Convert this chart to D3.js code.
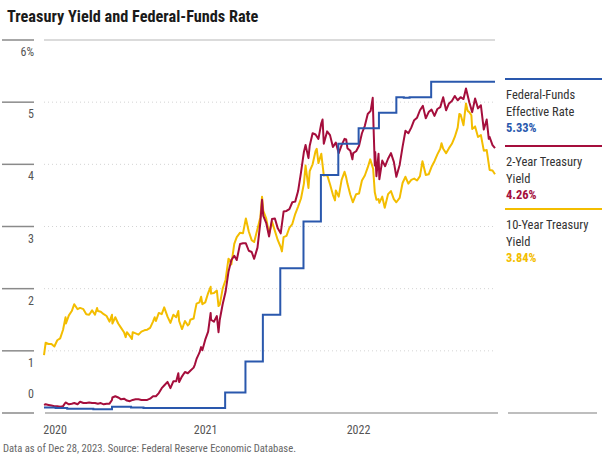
<!DOCTYPE html>
<html>
<head>
<meta charset="utf-8">
<script src="https://cdn.jsdelivr.net/npm/d3@7"></script>
<style>
  html, body { margin: 0; padding: 0; background: #fff; }
  svg { display: block; }
  text { font-family: "Liberation Sans Narrow", "Roboto Condensed", "Arial Narrow", Roboto, sans-serif; }
</style>
</head>
<body>
<svg id="chart" width="602" height="456"></svg>
<script>
// ---------------- DATA ----------------
const title = "Treasury Yield and Federal-Funds Rate";
const footnote = "Data as of Dec 28, 2023. Source: Federal Reserve Economic Database.";

const yTicks = [0, 1, 2, 3, 4, 5, 6];
const yTickLabels = ["0", "1", "2", "3", "4", "5", "6%"];
const xTickDates = ["2021-01-01", "2021-12-30", "2023-01-03"];
const xTickLabels = ["2020", "2021", "2022"];

const seriesNames = ["Federal-Funds Effective Rate", "2-Year Treasury Yield", "10-Year Treasury Yield"];
const legendLines = [["Federal-Funds", "Effective Rate"], ["2-Year Treasury", "Yield"], ["10-Year Treasury", "Yield"]];
const latestValues = ["5.33%", "4.26%", "3.84%"];

const fedFunds = [
  ["2021-01-04",0.09],["2021-02-01",0.08],["2021-03-01",0.07],["2021-05-03",0.06],["2021-06-17",0.10],
  ["2021-08-02",0.09],["2021-09-01",0.08],["2022-03-17",0.33],["2022-05-05",0.83],["2022-06-16",1.58],
  ["2022-07-28",2.33],["2022-09-22",3.08],["2022-11-03",3.83],["2022-12-15",4.33],["2023-02-02",4.58],
  ["2023-03-23",4.83],["2023-05-04",5.08],["2023-05-22",5.07],["2023-06-05",5.08],["2023-07-27",5.33],["2023-12-28",5.33]
];

const twoYear = [
  ["2021-01-04",0.13],["2021-01-08",0.14],["2021-01-15",0.13],["2021-01-22",0.12],["2021-01-29",0.11],
  ["2021-02-05",0.11],["2021-02-12",0.10],["2021-02-19",0.11],["2021-02-25",0.17],["2021-03-05",0.14],
  ["2021-03-12",0.15],["2021-03-18",0.16],["2021-03-26",0.14],["2021-04-01",0.18],["2021-04-09",0.16],
  ["2021-04-16",0.16],["2021-04-23",0.17],["2021-04-30",0.16],["2021-05-07",0.16],["2021-05-14",0.15],
  ["2021-05-21",0.16],["2021-05-28",0.14],["2021-06-04",0.15],["2021-06-11",0.15],["2021-06-17",0.21],
  ["2021-06-18",0.25],["2021-06-25",0.27],["2021-07-02",0.25],["2021-07-09",0.22],["2021-07-16",0.23],
  ["2021-07-23",0.20],["2021-07-30",0.19],["2021-08-06",0.21],["2021-08-13",0.22],["2021-08-20",0.22],
  ["2021-08-27",0.21],["2021-09-03",0.21],["2021-09-10",0.21],["2021-09-17",0.23],["2021-09-24",0.27],
  ["2021-10-01",0.27],["2021-10-08",0.32],["2021-10-15",0.40],["2021-10-22",0.45],["2021-10-29",0.50],
  ["2021-11-05",0.40],["2021-11-12",0.51],["2021-11-19",0.51],["2021-11-24",0.64],["2021-11-26",0.50],
  ["2021-12-03",0.59],["2021-12-10",0.66],["2021-12-17",0.64],["2021-12-23",0.68],["2021-12-31",0.73],
  ["2022-01-03",0.78],["2022-01-07",0.87],["2022-01-14",0.97],["2022-01-18",1.06],["2022-01-21",1.01],
  ["2022-01-28",1.18],["2022-02-04",1.31],["2022-02-10",1.61],["2022-02-11",1.50],["2022-02-18",1.47],
  ["2022-02-25",1.56],["2022-03-01",1.30],["2022-03-04",1.50],["2022-03-11",1.75],["2022-03-18",1.95],
  ["2022-03-25",2.27],["2022-04-01",2.46],["2022-04-08",2.53],["2022-04-14",2.46],["2022-04-22",2.72],
  ["2022-04-29",2.73],["2022-05-06",2.73],["2022-05-13",2.61],["2022-05-20",2.59],["2022-05-26",2.48],
  ["2022-06-03",2.66],["2022-06-10",3.07],["2022-06-14",3.43],["2022-06-17",3.17],["2022-06-24",3.06],
  ["2022-07-01",2.84],["2022-07-08",3.12],["2022-07-15",3.13],["2022-07-22",2.97],["2022-07-29",2.89],
  ["2022-08-05",3.24],["2022-08-12",3.25],["2022-08-19",3.28],["2022-08-26",3.39],["2022-09-02",3.40],
  ["2022-09-09",3.57],["2022-09-16",3.87],["2022-09-23",4.20],["2022-09-27",4.31],["2022-09-30",4.22],
  ["2022-10-04",4.10],["2022-10-07",4.30],["2022-10-14",4.50],["2022-10-21",4.48],["2022-10-28",4.41],
  ["2022-11-04",4.66],["2022-11-07",4.72],["2022-11-10",4.33],["2022-11-18",4.53],["2022-11-25",4.47],
  ["2022-12-02",4.28],["2022-12-09",4.35],["2022-12-16",4.18],["2022-12-23",4.31],["2022-12-30",4.41],
  ["2023-01-03",4.40],["2023-01-06",4.26],["2023-01-13",4.22],["2023-01-18",4.08],["2023-01-20",4.18],
  ["2023-01-27",4.21],["2023-02-03",4.30],["2023-02-10",4.50],["2023-02-17",4.62],["2023-02-24",4.81],
  ["2023-03-03",4.86],["2023-03-08",5.07],["2023-03-10",4.60],["2023-03-13",3.98],["2023-03-14",4.20],
  ["2023-03-17",3.81],["2023-03-22",4.17],["2023-03-24",3.76],["2023-03-31",4.06],["2023-04-07",3.97],
  ["2023-04-14",4.09],["2023-04-21",4.18],["2023-04-28",4.04],["2023-05-04",3.80],["2023-05-12",3.99],
  ["2023-05-19",4.28],["2023-05-26",4.54],["2023-06-02",4.50],["2023-06-09",4.59],["2023-06-16",4.71],
  ["2023-06-23",4.75],["2023-06-30",4.87],["2023-07-07",4.94],["2023-07-14",4.74],["2023-07-21",4.84],
  ["2023-07-28",4.88],["2023-08-04",4.78],["2023-08-11",4.89],["2023-08-18",4.92],["2023-08-25",5.08],
  ["2023-09-01",4.87],["2023-09-08",4.98],["2023-09-15",5.02],["2023-09-22",5.10],["2023-09-29",5.03],
  ["2023-10-06",5.08],["2023-10-13",5.05],["2023-10-19",5.22],["2023-10-27",5.00],["2023-11-03",4.84],
  ["2023-11-10",5.06],["2023-11-17",4.90],["2023-11-24",4.95],["2023-12-01",4.56],["2023-12-08",4.72],
  ["2023-12-13",4.41],["2023-12-15",4.44],["2023-12-22",4.31],["2023-12-28",4.26]
];

const tenYear = [
  ["2021-01-04",0.93],["2021-01-08",1.13],["2021-01-15",1.11],["2021-01-22",1.11],["2021-01-29",1.07],
  ["2021-02-05",1.17],["2021-02-12",1.20],["2021-02-19",1.34],["2021-02-25",1.54],["2021-02-26",1.44],
  ["2021-03-05",1.57],["2021-03-12",1.64],["2021-03-18",1.75],["2021-03-26",1.67],["2021-04-01",1.69],
  ["2021-04-09",1.67],["2021-04-16",1.59],["2021-04-23",1.58],["2021-04-30",1.65],["2021-05-07",1.58],
  ["2021-05-12",1.69],["2021-05-14",1.64],["2021-05-21",1.63],["2021-05-28",1.59],["2021-06-04",1.56],
  ["2021-06-11",1.47],["2021-06-17",1.58],["2021-06-18",1.44],["2021-06-25",1.54],["2021-07-02",1.44],
  ["2021-07-09",1.37],["2021-07-16",1.30],["2021-07-20",1.22],["2021-07-23",1.30],["2021-07-30",1.24],
  ["2021-08-04",1.19],["2021-08-06",1.30],["2021-08-13",1.28],["2021-08-20",1.26],["2021-08-27",1.31],
  ["2021-09-03",1.33],["2021-09-10",1.34],["2021-09-17",1.37],["2021-09-24",1.47],["2021-09-28",1.54],
  ["2021-10-01",1.48],["2021-10-08",1.61],["2021-10-15",1.59],["2021-10-21",1.70],["2021-10-29",1.55],
  ["2021-11-05",1.45],["2021-11-12",1.58],["2021-11-19",1.54],["2021-11-24",1.64],["2021-11-26",1.48],
  ["2021-12-03",1.35],["2021-12-10",1.48],["2021-12-17",1.41],["2021-12-20",1.43],["2021-12-23",1.50],
  ["2021-12-31",1.52],["2022-01-03",1.63],["2022-01-07",1.76],["2022-01-14",1.78],["2022-01-18",1.87],
  ["2022-01-21",1.75],["2022-01-28",1.78],["2022-02-04",1.93],["2022-02-10",2.03],["2022-02-11",1.92],
  ["2022-02-18",1.93],["2022-02-25",1.97],["2022-03-01",1.72],["2022-03-04",1.74],["2022-03-11",2.00],
  ["2022-03-18",2.14],["2022-03-25",2.48],["2022-03-28",2.46],["2022-04-01",2.39],["2022-04-08",2.72],
  ["2022-04-14",2.83],["2022-04-22",2.90],["2022-04-29",2.89],["2022-05-06",3.13],["2022-05-13",2.92],
  ["2022-05-20",2.78],["2022-05-26",2.75],["2022-06-03",2.96],["2022-06-10",3.15],["2022-06-14",3.48],
  ["2022-06-17",3.25],["2022-06-24",3.13],["2022-07-01",2.88],["2022-07-08",3.08],["2022-07-15",2.93],
  ["2022-07-22",2.78],["2022-07-29",2.67],["2022-08-01",2.60],["2022-08-05",2.83],["2022-08-12",2.85],
  ["2022-08-19",2.98],["2022-08-26",3.04],["2022-09-02",3.20],["2022-09-09",3.32],["2022-09-16",3.45],
  ["2022-09-23",3.69],["2022-09-27",3.98],["2022-09-30",3.83],["2022-10-04",3.62],["2022-10-07",3.89],
  ["2022-10-14",4.00],["2022-10-21",4.21],["2022-10-24",4.25],["2022-10-28",4.02],["2022-11-04",4.17],
  ["2022-11-10",3.82],["2022-11-18",3.83],["2022-11-25",3.68],["2022-12-02",3.51],["2022-12-07",3.42],
  ["2022-12-09",3.58],["2022-12-16",3.48],["2022-12-23",3.75],["2022-12-30",3.88],["2023-01-03",3.79],
  ["2023-01-06",3.69],["2023-01-13",3.51],["2023-01-19",3.39],["2023-01-27",3.52],["2023-02-03",3.53],
  ["2023-02-10",3.74],["2023-02-17",3.82],["2023-02-24",3.95],["2023-03-02",4.08],["2023-03-09",3.93],
  ["2023-03-13",3.55],["2023-03-17",3.43],["2023-03-22",3.44],["2023-03-24",3.38],["2023-03-31",3.48],
  ["2023-04-06",3.30],["2023-04-14",3.52],["2023-04-21",3.57],["2023-04-28",3.44],["2023-05-04",3.39],
  ["2023-05-12",3.46],["2023-05-19",3.70],["2023-05-26",3.80],["2023-06-02",3.69],["2023-06-09",3.75],
  ["2023-06-16",3.77],["2023-06-23",3.74],["2023-06-30",3.81],["2023-07-06",4.05],["2023-07-14",3.83],
  ["2023-07-21",3.84],["2023-07-28",3.96],["2023-08-04",4.05],["2023-08-11",4.16],["2023-08-18",4.25],
  ["2023-08-21",4.34],["2023-08-25",4.25],["2023-09-01",4.18],["2023-09-08",4.26],["2023-09-15",4.33],
  ["2023-09-22",4.44],["2023-09-29",4.59],["2023-10-03",4.81],["2023-10-06",4.80],["2023-10-13",4.63],
  ["2023-10-19",4.98],["2023-10-23",4.86],["2023-10-27",4.84],["2023-11-01",4.79],["2023-11-03",4.57],
  ["2023-11-10",4.61],["2023-11-17",4.44],["2023-11-24",4.47],["2023-12-01",4.22],["2023-12-08",4.23],
  ["2023-12-15",3.91],["2023-12-22",3.90],["2023-12-28",3.84]
];

const colors = ["#2a58ad", "#a50e3c", "#f3bd00"];

// ---------------- CHART ----------------
const parse = d3.timeParse("%Y-%m-%d");
const svg = d3.select("#chart");

const plot = { left: 44, right: 495, top: 40, bottom: 413 };

const x = d3.scaleTime()
  .domain([parse("2021-01-04"), parse("2023-12-28")])
  .range([plot.left, plot.right]);
const y = d3.scaleLinear().domain([0, 6]).range([plot.bottom, plot.top]);

// title
svg.append("text")
  .attr("x", 7).attr("y", 22)
  .attr("font-size", 16.3).attr("font-weight", "bold").attr("fill", "#1a1a1a")
  .text(title);

// gridlines
const grid = svg.append("g");
yTicks.forEach(t => {
  if (t === 0) return;
  grid.append("line")
    .attr("x1", plot.left).attr("x2", plot.right)
    .attr("y1", y(t)).attr("y2", y(t))
    .attr("stroke", t === 6 ? "#cfcfcf" : "#d4d4d4")
    .attr("stroke-width", t === 6 ? 1.5 : 1)
    .attr("stroke-dasharray", t === 6 ? null : "1,3");
});

// left tick segments + labels
const yAxisG = svg.append("g");
yTicks.forEach((t, i) => {
  yAxisG.append("line")
    .attr("x1", 2).attr("x2", 34)
    .attr("y1", y(t)).attr("y2", y(t))
    .attr("stroke", "#8a8a8a").attr("stroke-width", 1.5);
  yAxisG.append("text")
    .attr("x", 34)
    .attr("y", t === 0 ? y(t) - 15 : y(t) + 16)
    .attr("text-anchor", "end")
    .attr("font-size", 12).attr("fill", "#555")
    .text(yTickLabels[i]);
});

// baseline
svg.append("line")
  .attr("x1", plot.left + 1).attr("x2", plot.right + 3)
  .attr("y1", y(0)).attr("y2", y(0))
  .attr("stroke", "#a8a8a8").attr("stroke-width", 1.5);

// x axis
const xAxis = d3.axisBottom(x)
  .tickValues(xTickDates.map(parse))
  .tickSize(0)
  .tickFormat((d, i) => xTickLabels[i]);
const xg = svg.append("g")
  .attr("transform", `translate(0,${plot.bottom})`)
  .call(xAxis);
xg.select(".domain").remove();
xg.selectAll("text")
  .attr("y", 21).attr("dy", 0)
  .attr("text-anchor", "start")
  .attr("font-size", 12).attr("fill", "#555")
  .style("font-family", "'Liberation Sans Narrow', 'Roboto Condensed', 'Arial Narrow', Roboto, sans-serif");

// lines
const lineGen = d3.line()
  .x(d => x(parse(d[0])))
  .y(d => y(d[1]))
  .curve(d3.curveLinear);
const stepGen = d3.line()
  .x(d => x(parse(d[0])))
  .y(d => y(d[1]))
  .curve(d3.curveStepAfter);

svg.append("path").datum(tenYear)
  .attr("d", lineGen).attr("fill", "none")
  .attr("stroke", colors[2]).attr("stroke-width", 2).attr("stroke-linejoin", "round");
svg.append("path").datum(twoYear)
  .attr("d", lineGen).attr("fill", "none")
  .attr("stroke", colors[1]).attr("stroke-width", 2).attr("stroke-linejoin", "round");
svg.append("path").datum(fedFunds)
  .attr("d", stepGen).attr("fill", "none")
  .attr("stroke", colors[0]).attr("stroke-width", 2);

// legend
const legendTop = [79, 146, 209];
const lg = svg.append("g");
seriesNames.forEach((name, i) => {
  const top = legendTop[i];
  lg.append("line")
    .attr("x1", 505).attr("x2", 602)
    .attr("y1", top).attr("y2", top)
    .attr("stroke", colors[i]).attr("stroke-width", 2);
  legendLines[i].forEach((ln, j) => {
    lg.append("text")
      .attr("x", 506).attr("y", top + 20 + j * 16.5)
      .attr("font-size", 12.5).attr("fill", "#333")
      .text(ln);
  });
  lg.append("text")
    .attr("x", 506).attr("y", top + 20 + legendLines[i].length * 16.5)
    .attr("font-size", 12.5).attr("font-weight", "bold").attr("fill", colors[i])
    .text(latestValues[i]);
});
// legend bottom rule
lg.append("line")
  .attr("x1", 508).attr("x2", 597)
  .attr("y1", y(0)).attr("y2", y(0))
  .attr("stroke", "#a8a8a8").attr("stroke-width", 1.5);

// footnote
svg.append("text")
  .attr("x", 3).attr("y", 452)
  .attr("font-size", 10.6).attr("fill", "#666")
  .text(footnote);
</script>
</body>
</html>
